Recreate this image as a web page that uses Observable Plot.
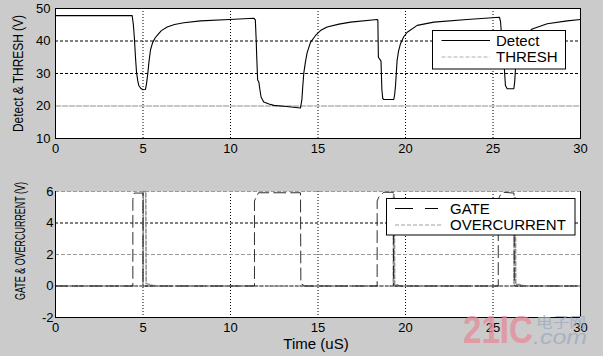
<!DOCTYPE html>
<html><head><meta charset="utf-8">
<script src="https://cdn.jsdelivr.net/npm/d3@7"></script>
<script src="https://cdn.jsdelivr.net/npm/@observablehq/plot@0.6"></script>
<style>
html,body{margin:0;padding:0;background:#cbcbcb;}
#fig{position:relative;width:603px;height:356px;overflow:hidden;background:#cbcbcb;font-family:"Liberation Sans",Arial,sans-serif;}
#fig svg{position:absolute;left:0;}
</style></head><body><div id="fig"></div>
<script>
// ---------- data ----------
const xTicks = [0, 5, 10, 15, 20, 25, 30];
const xGrid = [5, 10, 15, 20, 25];
const topYTicks = [10, 20, 30, 40, 50];
const topGridY = [30, 40];
const botYTicks = [-2, 0, 2, 4, 6];
const botGridBlack = [0, 4];
const botGridGray = [2, 6];

const detectT = [0, 4.38, 4.45, 4.51, 4.57, 4.63, 4.7, 4.76, 4.88, 5.0, 5.14, 5.2, 5.27, 5.35, 5.43, 5.55, 5.7, 5.81, 6.05, 6.38, 6.8, 7.33, 8.29, 9.94, 11.33,
  11.42, 11.47, 11.5, 11.55, 11.62, 11.68, 11.75, 11.9, 12.2, 12.48, 13.05, 13.6, 14.0,
  14.08, 14.12, 14.19, 14.28, 14.38, 14.57, 14.86, 15.14, 15.52, 16.2, 16.86, 18.38,
  18.42, 18.45, 18.6, 18.65, 18.7, 18.76, 19.33, 19.38, 19.43, 19.52, 19.6, 19.71, 19.9, 20.1, 20.67, 21.62, 23.52, 25.37,
  25.43, 25.5, 25.62, 25.71, 25.81, 26.19, 26.24, 26.29, 26.4, 26.6, 26.9, 27.24, 28.1, 29.24, 30];
const detectV = [47.8, 47.8, 45, 40.7, 35, 30.4, 27.8, 26.3, 25.4, 25.0, 25.1, 26.8, 29.8, 34, 37.3, 39.5, 41, 41.7, 43.2, 44.3, 45.1, 45.6, 46.2, 46.6, 47.0,
  46.5, 40, 35, 28, 27.4, 25, 22.7, 21.2, 20.6, 20.2, 19.9, 19.6, 19.4,
  22, 25.3, 30.2, 33.5, 36.4, 39.6, 41.7, 43.2, 44.3, 45.2, 45.8, 46.6,
  46.5, 35, 33.8, 25, 22.3, 22.0, 22.0, 23.5, 26.3, 34, 36.8, 39.1, 41.3, 42.7, 44.8, 45.8, 46.6, 47.3,
  46, 41, 34, 26.3, 25.3, 25.3, 27.5, 32, 36, 39.5, 42, 43.7, 45.3, 46.2, 46.6];

const threshT = [0, 30];
const threshV = [20, 20];

const gateT = [0, 4.42, 4.42, 4.5, 5.0, 5.0, 11.37, 11.37, 11.45, 11.6, 14.0, 14.02, 14.25, 18.38, 18.38, 18.5, 18.76, 19.3, 19.32, 25.3, 25.3, 25.45, 25.6, 26.2, 26.22, 30];
const gateV = [0, 0, 5.5, 5.9, 5.9, 0, 0, 5.4, 5.6, 5.92, 5.92, 0.15, 0, 0, 5.4, 5.7, 5.95, 5.95, 0, 0, 5.5, 5.85, 5.95, 5.9, 0, 0];

const ocT = [0, 5.0, 5.02, 5.16, 5.18, 5.3, 5.5, 5.8, 19.3, 19.32, 19.36, 19.38, 19.5, 19.7, 26.2, 26.22, 26.28, 26.3, 26.5, 26.8, 30];
const ocV = [0, 0, 6, 6, 0.15, 0.12, 0.05, 0, 0, 5.8, 5.8, 0.1, 0.08, 0, 0, 5.6, 5.6, 0.1, 0.1, 0, 0];

const topLegend = ["Detect", "THRESH"];
const botLegend = ["GATE", "OVERCURRENT"];
const topYLabel = "Detect & THRESH (V)";
const botYLabel = "GATE & OVERCURRENT (V)";
const xLabel = "Time (uS)";

// ---------- build ----------
const zip = (T, V) => T.map((t, i) => ({t, v: V[i]}));
const detect = zip(detectT, detectV);
const thresh = zip(threshT, threshV);
const gate = zip(gateT, gateV);
const oc = zip(ocT, ocV);
const fig = document.getElementById("fig");
const plotStyle = {background: "transparent", color: "black", fontSize: "13px", fontFamily: "'Liberation Sans', Arial, sans-serif", overflow: "visible"};
const fmt = d => String(d);

const topPlot = Plot.plot({
  width: 603, height: 175, marginLeft: 55, marginRight: 23, marginTop: 8, marginBottom: 37,
  style: plotStyle,
  x: {domain: [0, 30], ticks: xTicks, tickSize: 0, tickPadding: 5.5, tickFormat: fmt, label: null},
  y: {domain: [10, 50], ticks: topYTicks, tickSize: 0, tickPadding: 5, tickFormat: fmt, label: null},
  marks: [
    Plot.frame({fill: "white", stroke: "none"}),
    Plot.ruleX(xGrid, {stroke: "black", strokeDasharray: "1,2"}),
    Plot.ruleY(topGridY, {stroke: "black", strokeDasharray: "3,2"}),
    Plot.line(thresh, {x: "t", y: "v", stroke: "#b4b4b4", strokeDasharray: "5,2"}),
    Plot.line(detect, {x: "t", y: "v", stroke: "black", strokeWidth: 1.1}),
    Plot.frame({stroke: "black"})
  ]
});
topPlot.style.top = "0px";
fig.appendChild(topPlot);

const botPlot = Plot.plot({
  width: 603, height: 181, marginLeft: 55, marginRight: 23, marginTop: 16, marginBottom: 39,
  style: plotStyle,
  x: {domain: [0, 30], ticks: xTicks, tickSize: 0, tickPadding: 5, tickFormat: fmt, label: null},
  y: {domain: [-2, 6], ticks: botYTicks, tickSize: 0, tickPadding: 2, tickFormat: fmt, label: null},
  marks: [
    Plot.frame({fill: "white", stroke: "none"}),
    Plot.ruleX(xGrid, {stroke: "black", strokeDasharray: "1,2"}),
    Plot.ruleY(botGridBlack, {stroke: "black", strokeDasharray: "3,2"}),
    Plot.ruleY(botGridGray, {stroke: "#9a9a9a", strokeDasharray: "4,2"}),
    Plot.line(oc, {x: "t", y: "v", stroke: "#8c8c8c", strokeDasharray: "4,2"}),
    Plot.line(gate, {x: "t", y: "v", stroke: "#1a1a1a", strokeWidth: 0.9, strokeDasharray: "12,5"}),
    Plot.ruleX([0, 30], {stroke: "black"}),
    Plot.ruleY([-2], {stroke: "black"})
  ]
});
botPlot.style.top = "175px";
fig.appendChild(botPlot);

// ---------- overlay texts & legends ----------
const ov = d3.select(fig).append("svg").attr("width", 603).attr("height", 356).style("top", "0px")
  .attr("font-family", "'Liberation Sans', Arial, sans-serif");

ov.append("text").attr("transform", "translate(22.5,132) rotate(-90)")
  .attr("font-size", 15).attr("textLength", 117).attr("lengthAdjust", "spacingAndGlyphs").text(topYLabel);
ov.append("text").attr("transform", "translate(25,300) rotate(-90)")
  .attr("font-size", 15).attr("textLength", 118).attr("lengthAdjust", "spacingAndGlyphs").text(botYLabel);
ov.append("text").attr("x", 316).attr("y", 348.5).attr("text-anchor", "middle").attr("font-size", 15).text(xLabel);

function legend(x, y, w, h, labels, styles, lx0, lx1) {
  const g = ov.append("g").attr("transform", `translate(${x},${y})`);
  g.append("rect").attr("width", w).attr("height", h).attr("fill", "white").attr("stroke", "black");
  labels.forEach((lab, i) => {
    const yy = 10 + i * 16.5;
    const s = styles[i];
    g.append("line").attr("x1", lx0).attr("x2", s.x1 || lx1).attr("y1", yy).attr("y2", yy)
      .attr("stroke", s.stroke).attr("stroke-dasharray", s.dash);
    g.append("text").attr("x", 63.5).attr("y", yy).attr("dy", "0.36em").attr("font-size", 15).text(lab);
  });
}
legend(432.5, 30.5, 133, 38.5, topLegend, [{stroke: "black", dash: null}, {stroke: "#b0b0b0", dash: "4,2"}], 9, 57.5);
legend(386.5, 198.5, 188.5, 36.5, botLegend, [{stroke: "black", dash: "18,12", x1: 51.5}, {stroke: "#a0a0a0", dash: "4,2"}], 8.5, 55);

// watermark
const wm = ov.append("g").attr("opacity", 0.75);
wm.append("text").attr("x", 463).attr("y", 343).attr("font-size", 39).attr("font-weight", "bold")
  .attr("fill", "#e58a99").attr("textLength", 70).attr("lengthAdjust", "spacingAndGlyphs").text("21IC");
wm.append("text").attr("x", 536).attr("y", 327).attr("font-size", 14).attr("font-family", "'Noto Sans CJK SC'")
  .attr("fill", "#9aaac2").attr("textLength", 50).attr("lengthAdjust", "spacingAndGlyphs").text("电子网");
wm.append("text").attr("x", 533).attr("y", 344).attr("font-size", 20).attr("font-style", "italic")
  .attr("fill", "#9aaac2").attr("textLength", 54).attr("lengthAdjust", "spacingAndGlyphs").text(".com");
</script></body></html>
